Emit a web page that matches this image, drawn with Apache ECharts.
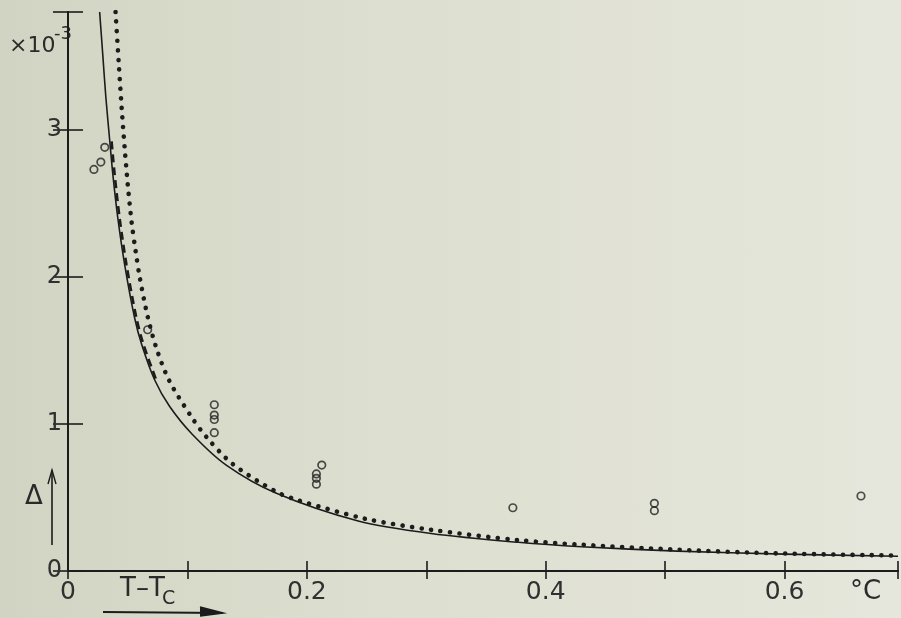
<!DOCTYPE html>
<html><head><meta charset="utf-8">
<script src="https://cdn.jsdelivr.net/npm/echarts@6/dist/echarts.min.js"></script>
<style>
html,body{margin:0;padding:0;width:901px;height:618px;overflow:hidden;
background:linear-gradient(90deg,#d2d4c3 0%,#dcdecf 40%,#e6e7dc 100%);}
#c{width:901px;height:618px;}
</style>
</head><body><div id="c"></div>
<script>
// ---- data (T - Tc in °C, Δ in units of 1e-3) ----
const solidX = [0.0265,0.0292,0.0317,0.035,0.0375,0.0417,0.0475,0.0558,0.0617,0.0725,0.085,0.104,0.1325,0.174,0.243,0.304,0.377,0.43,0.51,0.60,0.695];
const solidY = [3.80,3.50,3.22,2.92,2.70,2.40,2.08,1.72,1.54,1.30,1.12,0.93,0.72,0.53,0.34,0.255,0.195,0.165,0.135,0.115,0.10];

const dashX = [0.0365,0.039,0.0432,0.049,0.0573,0.0632,0.0738];
const dashY = [2.92,2.70,2.40,2.08,1.72,1.54,1.30];

const dotX = [0.0398,0.0425,0.045,0.0475,0.05,0.0533,0.0567,0.06,0.0667,0.0742,0.085,0.104,0.116,0.1375,0.174,0.193,0.249,0.304,0.377,0.427,0.51,0.593,0.695];
const dotY = [3.80,3.45,3.14,2.87,2.63,2.37,2.17,2.00,1.73,1.51,1.29,1.04,0.91,0.73,0.54,0.48,0.355,0.28,0.21,0.18,0.145,0.12,0.105];

const expX = [0.0217,0.0275,0.0308,0.0667,0.1225,0.1225,0.1225,0.1225,0.2125,0.208,0.208,0.208,0.3725,0.491,0.491,0.664];
const expY = [2.73,2.78,2.88,1.64,1.13,1.06,1.03,0.94,0.72,0.66,0.63,0.59,0.43,0.46,0.41,0.51];

const xTickStep = 0.1;
const yTickStep = 1;

const zip = (a,b)=>a.map((v,i)=>[v,b[i]]);
const FONT = 'DejaVu Sans';
const INK = '#1c1c1c';

const chart = echarts.init(document.getElementById('c'), null, {renderer:'canvas'});
const axisLine = {show:true, lineStyle:{color:INK, width:2}};
chart.setOption({
  animation:false,
  backgroundColor:'transparent',
  grid:{left:68, top:12, width:832, height:559},
  xAxis:[
    {type:'value', min:0, max:0.695, interval:xTickStep, position:'bottom',
     axisLine, splitLine:{show:false},
     axisTick:{inside:true, length:10, lineStyle:{color:INK, width:1.6}},
     axisLabel:{margin:9, fontSize:25, fontFamily:FONT, color:'#303030',
       formatter:v=>{const k=Math.round(v*10); return (Math.abs(v*10-k)<1e-6 && k%2===0)? (k===0?'0':(k/10).toFixed(1)) : '';}}},
    {type:'value', min:0, max:0.695, interval:xTickStep, position:'top',
     axisLine, splitLine:{show:false},
     axisTick:{inside:true, length:8, lineStyle:{color:INK, width:1.6}},
     axisLabel:{show:false}}
  ],
  yAxis:[
    {type:'value', min:0, max:3.8, interval:yTickStep, position:'left',
     axisLine, splitLine:{show:false},
     axisTick:{inside:true, length:15, lineStyle:{color:INK, width:1.6}},
     axisLabel:{margin:6, fontSize:24, fontFamily:FONT, color:'#303030',
       formatter:v=>Math.abs(v-Math.round(v))<1e-6 ? String(Math.round(v)) : ''}},
    {type:'value', min:0, max:3.8, interval:yTickStep, position:'right',
     axisLine, splitLine:{show:false},
     axisTick:{inside:true, length:15, lineStyle:{color:INK, width:1.6}},
     axisLabel:{show:false}}
  ],
  series:[
    {type:'line', data:zip(solidX,solidY), showSymbol:false, smooth:0.3,
     lineStyle:{color:INK, width:1.6}},
    {type:'line', data:zip(dashX,dashY), showSymbol:false, smooth:0.3,
     lineStyle:{color:INK, width:2.6, type:[8,5]}},
    {type:'line', data:zip(dotX,dotY), showSymbol:false, smooth:0.3,
     lineStyle:{color:INK, width:4.6, type:[0.1,9.5], cap:'round'}},
    {type:'scatter', data:zip(expX,expY), symbol:'circle', symbolSize:7.5,
     itemStyle:{color:'rgba(0,0,0,0)', borderColor:'#222', borderWidth:1.7}}
  ],
  graphic:[
    {type:'text', left:9, top:35, style:{text:'×10', font:'22px "DejaVu Sans"', fill:'#2a2a2a'}},
    {type:'text', left:54, top:25, style:{text:'-3', font:'18px "DejaVu Sans"', fill:'#2a2a2a'}},
    {type:'text', left:25, top:484, style:{text:'Δ', font:'26px "DejaVu Sans"', fill:'#2a2a2a'}},
    {type:'line', shape:{x1:52, y1:545, x2:52, y2:470}, style:{stroke:INK, lineWidth:1.6}},
    {type:'polyline', shape:{points:[[48,484],[52,470],[56,484]]}, style:{stroke:INK, lineWidth:1.4, fill:null}},
    {type:'text', left:120, top:576, style:{text:'T–T', font:'26px "DejaVu Sans"', fill:'#2a2a2a'}},
    {type:'text', left:162, top:590, style:{text:'C', font:'19px "DejaVu Sans"', fill:'#2a2a2a'}},
    {type:'line', shape:{x1:103, y1:612, x2:223, y2:613}, style:{stroke:INK, lineWidth:1.8}},
    {type:'polyline', shape:{points:[[200,607],[223,613],[200,616]]}, style:{stroke:INK, lineWidth:1.6, fill:INK}},
    {type:'text', left:850, top:579, style:{text:'°C', font:'26px "DejaVu Sans"', fill:'#2a2a2a'}}
  ]
});
</script>
</body></html>
